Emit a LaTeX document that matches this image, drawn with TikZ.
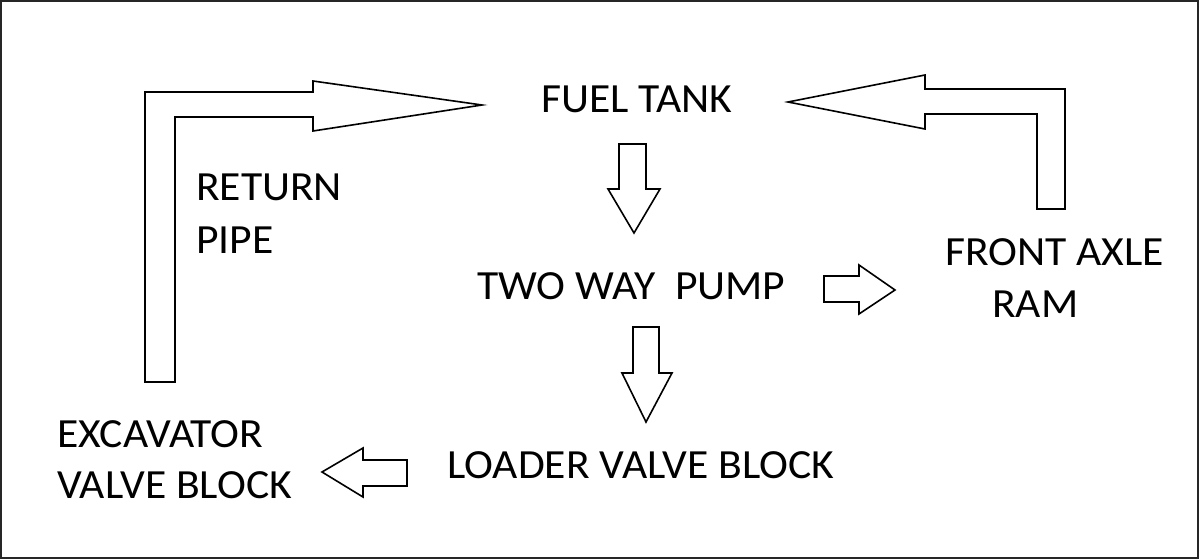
\documentclass[tikz,border=0pt]{standalone}
\usepackage{fontspec}
\setmainfont[FakeStretch=1.05]{Carlito}
\begin{document}
\begin{tikzpicture}[x=1pt,y=-1pt,
  lbl/.style={anchor=base west,inner sep=0pt,font=\fontsize{41.5}{48}\selectfont},
  blk/.style={draw=black,line width=1.6pt,fill=white,line join=miter}]
\useasboundingbox (0,0) rectangle (1199,559);
\draw[line width=2.2pt,draw=black!85] (1.2,1.2) rectangle (1197.8,557.8);
% labels
\node[lbl] (tank) at (541,113) {FUEL TANK};
\node[lbl] (ret1) at (196,200) {RETURN};
\node[lbl] (ret2) at (196,253) {PIPE};
\node[lbl] (pump) at (477,299) {TWO WAY\ \ PUMP};
\node[lbl] (ram1) at (945,265) {FRONT AXLE};
\node[lbl] (ram2) at (992,317) {RAM};
\node[lbl] (exc1) at (57,447) {EXCAVATOR};
\node[lbl] (exc2) at (57,498) {VALVE BLOCK};
\node[lbl] (load) at (447,478) {LOADER VALVE BLOCK};
% return pipe elbow arrow
\draw[blk] (145,382) -- (145,92) -- (313,92) -- (313,81) -- (482,105) -- (313,131) -- (313,117) -- (175,117) -- (175,382) -- cycle;
% front axle elbow arrow
\draw[blk] (1065,209) -- (1065,89) -- (925,89) -- (925,75) -- (788,102) -- (925,129) -- (925,114) -- (1037,114) -- (1037,209) -- cycle;
% tank -> pump
\draw[blk] (619,144) -- (646,144) -- (646,189) -- (660,189) -- (634,233) -- (608,189) -- (619,189) -- cycle;
% pump -> loader
\draw[blk] (633,327) -- (659,327) -- (659,373) -- (672,373) -- (646,422) -- (622,373) -- (633,373) -- cycle;
% pump -> ram
\draw[blk] (824,276) -- (859,276) -- (859,265) -- (895,290) -- (859,314) -- (859,302) -- (824,302) -- cycle;
% loader -> excavator
\draw[blk] (407,460) -- (363,460) -- (363,448) -- (322,472) -- (363,497) -- (363,486) -- (407,486) -- cycle;
\end{tikzpicture}
\end{document}
